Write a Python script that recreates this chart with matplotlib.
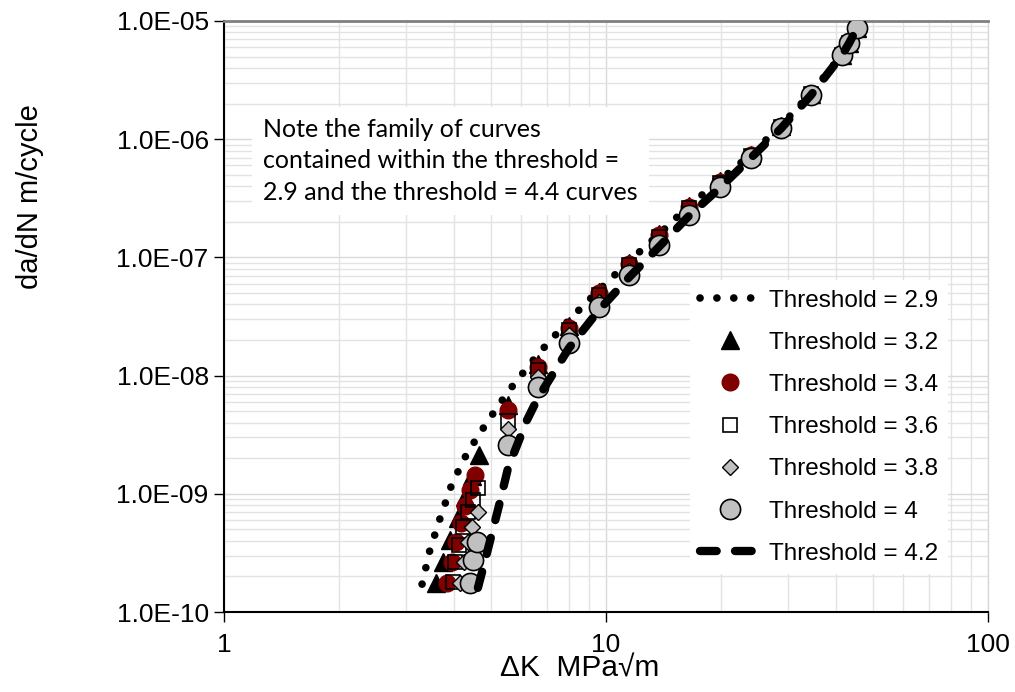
import matplotlib
matplotlib.use("Agg")
import matplotlib.pyplot as plt
from matplotlib.ticker import FuncFormatter, LogLocator, NullFormatter

plt.rcParams['font.family'] = ['Liberation Sans', 'DejaVu Sans']

# shared stress intensity range values for the upper part of the curves
k_hi = [5.54, 6.64, 8.0, 9.59, 11.5, 13.8, 16.5, 19.9, 23.9, 28.7, 34.4, 41.5, 43.3, 45.4]

# Threshold = 2.9 (dotted line)
k_29 = [3.30, 3.46, 3.68, 3.95, 4.33, 4.85] + k_hi
da_29 = [1.72e-10, 3.35e-10, 6.24e-10, 1.21e-9, 2.21e-9, 3.9e-9,
         7.3e-9, 1.52e-8, 2.95e-8, 5.3e-8, 9.3e-8, 1.58e-7, 2.75e-7, 4.5e-7,
         7.4e-7, 1.3e-6, 2.45e-6, 5.2e-6, 6.5e-6, 8.7e-6]

# Threshold = 3.2 (triangles)
k_32 = [3.59, 3.74, 3.91, 4.10, 4.27, 4.46, 4.65] + k_hi
da_32 = [1.76e-10, 2.65e-10, 4.06e-10, 6.24e-10, 9.4e-10, 1.42e-9, 2.13e-9,
         5.6e-9, 1.25e-8, 2.65e-8, 5.1e-8, 9.0e-8, 1.57e-7, 2.7e-7, 4.4e-7,
         7.35e-7, 1.29e-6, 2.43e-6, 5.2e-6, 6.5e-6, 8.7e-6]

# Threshold = 3.4 (dark red circles)
k_34 = [3.84, 3.95, 4.05, 4.17, 4.27, 4.40, 4.54] + k_hi
da_34 = [1.76e-10, 2.65e-10, 3.91e-10, 5.66e-10, 7.88e-10, 1.08e-9, 1.44e-9,
         5.1e-9, 1.18e-8, 2.53e-8, 5.0e-8, 8.8e-8, 1.55e-7, 2.67e-7, 4.35e-7,
         7.3e-7, 1.28e-6, 2.42e-6, 5.2e-6, 6.5e-6, 8.7e-6]

# Threshold = 3.6 (open squares)
k_36 = [3.98, 4.03, 4.12, 4.22, 4.35, 4.48, 4.62] + k_hi
da_36 = [1.79e-10, 2.65e-10, 3.69e-10, 5.24e-10, 7.0e-10, 8.87e-10, 1.12e-9,
         4.1e-9, 1.12e-8, 2.45e-8, 4.8e-8, 8.6e-8, 1.5e-7, 2.6e-7, 4.3e-7,
         7.2e-7, 1.27e-6, 2.4e-6, 5.2e-6, 6.5e-6, 8.7e-6]

# Threshold = 3.8 (grey diamonds)
k_38 = [4.15, 4.25, 4.35, 4.46, 4.62] + k_hi
da_38 = [1.76e-10, 2.65e-10, 3.9e-10, 5.24e-10, 7.0e-10,
         3.5e-9, 9.7e-9, 2.2e-8, 4.2e-8, 7.6e-8, 1.33e-7, 2.35e-7, 4.0e-7,
         7.0e-7, 1.25e-6, 2.38e-6, 5.17e-6, 6.5e-6, 8.7e-6]

# Threshold = 4 (grey circles)
k_40 = [4.41, 4.49, 4.59] + k_hi
da_40 = [1.76e-10, 2.75e-10, 3.9e-10,
         2.59e-9, 8.0e-9, 1.89e-8, 3.8e-8, 7.1e-8, 1.27e-7, 2.28e-7, 3.94e-7,
         6.93e-7, 1.24e-6, 2.37e-6, 5.16e-6, 6.5e-6, 8.7e-6]

# Threshold = 4.2 (dashed line)
k_42 = [4.62, 4.79, 5.0, 5.25, 5.54, 6.21, 6.64, 8.0, 9.59, 11.5, 13.8, 16.5,
        19.9, 23.9, 28.7, 34.4, 41.5, 43.3, 45.4]
da_42 = [1.6e-10, 2.5e-10, 4.3e-10, 8.0e-10, 1.65e-9, 4.2e-9, 6.5e-9, 1.71e-8,
         3.59e-8, 6.8e-8, 1.24e-7, 2.25e-7, 3.9e-7, 6.9e-7, 1.23e-6, 2.36e-6,
         5.15e-6, 6.5e-6, 8.7e-6]

note = ("Note the family of curves\n"
        "contained within the threshold =\n"
        "2.9 and the threshold = 4.4 curves")

fig = plt.figure(figsize=(10.15, 6.92), dpi=100)
ax = fig.add_axes([224 / 1015, 1 - 612 / 692, 764 / 1015, 591 / 692])
ax.set_xscale('log')
ax.set_yscale('log')
ax.set_xlim(1, 100)
ax.set_ylim(1e-10, 1e-5)

ax.plot(k_29, da_29, color='black', lw=5.5, linestyle=(0, (0.01, 2.2)),
        dash_capstyle='round', label='Threshold = 2.9', zorder=3)
ax.plot(k_32, da_32, linestyle='none', marker='^', ms=12.5, color='black',
        label='Threshold = 3.2', zorder=4)
ax.plot(k_34, da_34, linestyle='none', marker='o', ms=12, color='#800000',
        markeredgecolor='#800000', label='Threshold = 3.4', zorder=5)
ax.plot(k_36, da_36, linestyle='none', marker='s', ms=10, markerfacecolor='none',
        markeredgecolor='black', mew=1.2, label='Threshold = 3.6', zorder=6)
ax.plot(k_38, da_38, linestyle='none', marker='D', ms=8, markerfacecolor='#c0c0c0',
        markeredgecolor='black', mew=1.0, label='Threshold = 3.8', zorder=7)
ax.plot(k_40, da_40, linestyle='none', marker='o', ms=14.5, markerfacecolor='#c0c0c0',
        markeredgecolor='black', mew=1.2, label='Threshold = 4', zorder=8)
ax.plot(k_42, da_42, color='black', lw=6, linestyle=(0, (2.0, 2.2)),
        dash_capstyle='round', label='Threshold = 4.2', zorder=9)

ax.grid(True, which='major', color='#d9d9d9', lw=1)
ax.grid(True, which='minor', color='#e3e3e3', lw=1)
ax.yaxis.set_minor_locator(LogLocator(base=10, subs=range(2, 10), numticks=20))
ax.xaxis.set_minor_locator(LogLocator(base=10, subs=range(2, 10), numticks=20))
ax.xaxis.set_minor_formatter(NullFormatter())
ax.yaxis.set_minor_formatter(NullFormatter())
ax.tick_params(which='minor', length=0)
ax.tick_params(which='major', length=7, width=1, direction='out', labelsize=19,
               pad=4)
ax.tick_params(axis='x', pad=8)
ax.set_xticks([1, 10, 100])
ax.xaxis.set_major_formatter(FuncFormatter(lambda v, p: '%d' % v))
ax.yaxis.set_major_formatter(FuncFormatter(lambda v, p: '%.1E' % v))

for s in ['left', 'bottom']:
    ax.spines[s].set_color('black')
    ax.spines[s].set_linewidth(1.5)
ax.spines['top'].set_color('#808080')
ax.spines['top'].set_linewidth(2)
ax.spines['right'].set_color('#d9d9d9')
ax.spines['right'].set_linewidth(1)

fig.text(30 / 1015, 1 - 197 / 692, 'da/dN m/cycle', rotation=90, fontsize=21,
         ha='center', va='center')
fig.text(580 / 1015, 1 - 669 / 692, '\u0394K  MPa\u221am', fontsize=21.5,
         ha='center', va='center')

ax.text(0.051, 0.836, note, transform=ax.transAxes, fontsize=18,
        family=['Lato', 'DejaVu Sans'], va='top', ha='left', linespacing=1.45,
        zorder=10,
        bbox=dict(boxstyle='square,pad=0.45', facecolor='white', edgecolor='none'))

leg = ax.legend(loc='upper left', bbox_to_anchor=(0.610, 0.562), fontsize=17.5,
                frameon=True, fancybox=False, edgecolor='none', framealpha=1,
                handlelength=2.5, labelspacing=0.83, borderpad=0.4,
                handletextpad=0.35, borderaxespad=0)
leg.set_zorder(20)

fig.savefig('out.png', dpi=100)
